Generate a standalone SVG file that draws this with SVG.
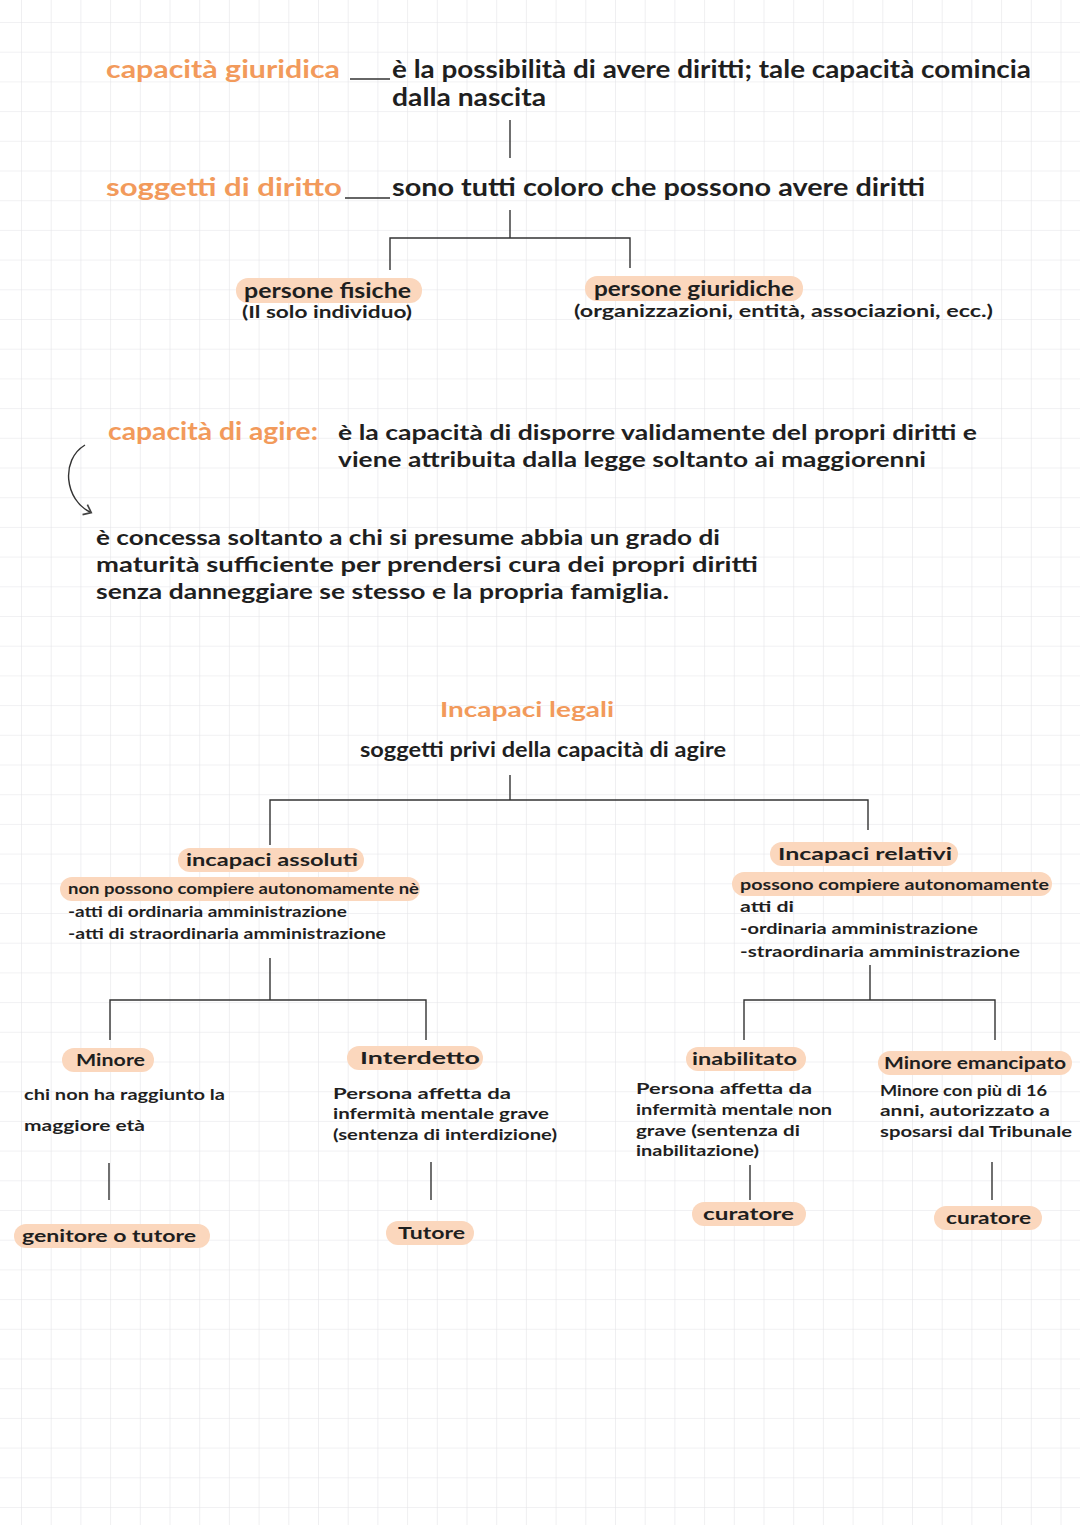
<svg xmlns="http://www.w3.org/2000/svg" width="1080" height="1525" viewBox="0 0 1080 1525">
<defs>
<pattern id="grid" x="21" y="22" width="29.7" height="29.7" patternUnits="userSpaceOnUse">
<path d="M0 0H29.7M0 0V29.7" fill="none" stroke="#e4e4e8" stroke-width="1.2"/>
</pattern>
<marker id="arr" markerWidth="10" markerHeight="10" refX="5" refY="5" orient="auto"><path d="M1 1L6 5L1 9" fill="none" stroke="#444" stroke-width="1.2"/></marker>
</defs>
<style>
text{font-family:"Lato","Open Sans",sans-serif;fill:#1f1f1f;font-weight:700}
.o{fill:#f29a5b}
.h{fill:#fbd7bd}
.big{font-size:24px}
.md{font-size:20px}
.sm{font-size:17px}
.xs{font-size:15px}
line,path.c{stroke:#333;stroke-width:1.4;fill:none}
</style>
<rect width="1080" height="1525" fill="#fff"/>
<rect width="1080" height="1525" fill="url(#grid)"/>

<g id="connectors">
<line x1="350" y1="79" x2="390" y2="79"/>
<line x1="510" y1="120" x2="510" y2="158"/>
<line x1="345" y1="198" x2="390" y2="198"/>
<line x1="510" y1="210" x2="510" y2="238"/>
<path class="c" d="M390 270V238H630V268"/>
<path class="c" d="M85 445C60 460 65 500 90 512" marker-end="url(#arr)"/>
<line x1="510" y1="775" x2="510" y2="800"/>
<path class="c" d="M270 845V800H868V830"/>
<line x1="270" y1="958" x2="270" y2="1000"/>
<path class="c" d="M110 1040V1000H426V1040"/>
<line x1="870" y1="965" x2="870" y2="1000"/>
<path class="c" d="M744 1040V1000H995V1040"/>
<line x1="109" y1="1163" x2="109" y2="1200"/>
<line x1="431" y1="1162" x2="431" y2="1200"/>
<line x1="750" y1="1165" x2="750" y2="1200"/>
<line x1="992" y1="1162" x2="992" y2="1200"/>
</g>

<g id="capacita-giuridica">
<text class="o big" x="106" y="78" textLength="234" lengthAdjust="spacingAndGlyphs">capacità giuridica</text>
<text class="big" x="392" y="78" textLength="639" lengthAdjust="spacingAndGlyphs">è la possibilità di avere diritti; tale capacità comincia</text>
<text class="big" x="392" y="106" textLength="154" lengthAdjust="spacingAndGlyphs">dalla nascita</text>
</g>
<g id="soggetti">
<text class="o big" x="106" y="196" textLength="236" lengthAdjust="spacingAndGlyphs">soggetti di diritto</text>
<text class="big" x="392" y="196" textLength="533" lengthAdjust="spacingAndGlyphs">sono tutti coloro che possono avere diritti</text>
</g>
<g id="persone-fisiche">
<rect class="h" x="236" y="278" width="186" height="25" rx="12"/>
<text class="md" x="244" y="298" textLength="167" lengthAdjust="spacingAndGlyphs">persone fisiche</text>
<text class="sm" x="242" y="318" textLength="170" lengthAdjust="spacingAndGlyphs">(Il solo individuo)</text>
</g>
<g id="persone-giuridiche">
<rect class="h" x="585" y="276" width="218" height="25" rx="12"/>
<text class="md" x="594" y="296" textLength="200" lengthAdjust="spacingAndGlyphs">persone giuridiche</text>
<text class="sm" x="574" y="317" textLength="419" lengthAdjust="spacingAndGlyphs">(organizzazioni, entità, associazioni, ecc.)</text>
</g>
<g id="capacita-agire">
<text class="o big" x="108" y="440" textLength="210" lengthAdjust="spacingAndGlyphs">capacità di agire:</text>
<text class="md" x="338" y="440" textLength="639" lengthAdjust="spacingAndGlyphs">è la capacità di disporre validamente del propri diritti e</text>
<text class="md" x="338" y="467" textLength="588" lengthAdjust="spacingAndGlyphs">viene attribuita dalla legge soltanto ai maggiorenni</text>
</g>
<g id="concessa">
<text class="md" x="96" y="545" textLength="624" lengthAdjust="spacingAndGlyphs">è concessa soltanto a chi si presume abbia un grado di</text>
<text class="md" x="96" y="572" textLength="662" lengthAdjust="spacingAndGlyphs">maturità sufficiente per prendersi cura dei propri diritti</text>
<text class="md" x="96" y="599" textLength="573" lengthAdjust="spacingAndGlyphs">senza danneggiare se stesso e la propria famiglia.</text>
</g>
<g id="incapaci-legali">
<text class="o md" x="440" y="717" textLength="174" lengthAdjust="spacingAndGlyphs">Incapaci legali</text>
<text class="md" x="360" y="757" textLength="366" lengthAdjust="spacingAndGlyphs">soggetti privi della capacità di agire</text>
</g>
<g id="incapaci-assoluti">
<rect class="h" x="178" y="848" width="186" height="24" rx="12"/>
<text class="sm" x="186" y="866" textLength="172" lengthAdjust="spacingAndGlyphs">incapaci assoluti</text>
<rect class="h" x="60" y="877" width="360" height="24" rx="12"/>
<text class="xs" x="68" y="894" textLength="351" lengthAdjust="spacingAndGlyphs">non possono compiere  autonomamente nè</text>
<text class="xs" x="68" y="917" textLength="279" lengthAdjust="spacingAndGlyphs">-atti di ordinaria amministrazione</text>
<text class="xs" x="68" y="939" textLength="318" lengthAdjust="spacingAndGlyphs">-atti di straordinaria amministrazione</text>
</g>
<g id="incapaci-relativi">
<rect class="h" x="770" y="842" width="188" height="24" rx="12"/>
<text class="sm" x="778" y="860" textLength="174" lengthAdjust="spacingAndGlyphs">Incapaci relativi</text>
<rect class="h" x="732" y="872" width="320" height="24" rx="12"/>
<text class="xs" x="740" y="890" textLength="309" lengthAdjust="spacingAndGlyphs">possono compiere autonomamente</text>
<text class="xs" x="740" y="912" textLength="54" lengthAdjust="spacingAndGlyphs">atti di</text>
<text class="xs" x="740" y="934" textLength="238" lengthAdjust="spacingAndGlyphs">-ordinaria amministrazione</text>
<text class="xs" x="740" y="957" textLength="280" lengthAdjust="spacingAndGlyphs">-straordinaria amministrazione</text>
</g>
<g id="minore">
<rect class="h" x="62" y="1048" width="92" height="24" rx="12"/>
<text class="sm" x="76" y="1066" textLength="69" lengthAdjust="spacingAndGlyphs">Minore</text>
<text class="xs" x="24" y="1100" textLength="201" lengthAdjust="spacingAndGlyphs">chi non ha raggiunto la</text>
<text class="xs" x="24" y="1131" textLength="121" lengthAdjust="spacingAndGlyphs">maggiore età</text>
<rect class="h" x="14" y="1224" width="196" height="24" rx="12"/>
<text class="sm" x="22" y="1242" textLength="174" lengthAdjust="spacingAndGlyphs">genitore o tutore</text>
</g>
<g id="interdetto">
<rect class="h" x="347" y="1046" width="136" height="24" rx="12"/>
<text class="sm" x="360" y="1064" textLength="120" lengthAdjust="spacingAndGlyphs">Interdetto</text>
<text class="xs" x="333" y="1099" textLength="178" lengthAdjust="spacingAndGlyphs">Persona affetta da</text>
<text class="xs" x="333" y="1119" textLength="216" lengthAdjust="spacingAndGlyphs">infermità mentale grave</text>
<text class="xs" x="333" y="1140" textLength="224" lengthAdjust="spacingAndGlyphs">(sentenza di interdizione)</text>
<rect class="h" x="386" y="1221" width="88" height="24" rx="12"/>
<text class="sm" x="398" y="1239" textLength="67" lengthAdjust="spacingAndGlyphs">Tutore</text>
</g>
<g id="inabilitato">
<rect class="h" x="686" y="1047" width="120" height="24" rx="12"/>
<text class="sm" x="692" y="1065" textLength="105" lengthAdjust="spacingAndGlyphs">inabilitato</text>
<text class="xs" x="636" y="1094" textLength="176" lengthAdjust="spacingAndGlyphs">Persona affetta da</text>
<text class="xs" x="636" y="1115" textLength="196" lengthAdjust="spacingAndGlyphs">infermità mentale non</text>
<text class="xs" x="636" y="1136" textLength="164" lengthAdjust="spacingAndGlyphs">grave (sentenza di</text>
<text class="xs" x="636" y="1156" textLength="123" lengthAdjust="spacingAndGlyphs">inabilitazione)</text>
<rect class="h" x="692" y="1202" width="114" height="24" rx="12"/>
<text class="sm" x="703" y="1220" textLength="91" lengthAdjust="spacingAndGlyphs">curatore</text>
</g>
<g id="minore-emancipato">
<rect class="h" x="878" y="1051" width="194" height="24" rx="12"/>
<text class="sm" x="884" y="1069" textLength="182" lengthAdjust="spacingAndGlyphs">Minore emancipato</text>
<text class="xs" x="880" y="1096" textLength="167" lengthAdjust="spacingAndGlyphs">Minore con più di 16</text>
<text class="xs" x="880" y="1116" textLength="170" lengthAdjust="spacingAndGlyphs">anni, autorizzato a</text>
<text class="xs" x="880" y="1137" textLength="192" lengthAdjust="spacingAndGlyphs">sposarsi dal Tribunale</text>
<rect class="h" x="934" y="1206" width="108" height="24" rx="12"/>
<text class="sm" x="946" y="1224" textLength="85" lengthAdjust="spacingAndGlyphs">curatore</text>
</g>
</svg>
